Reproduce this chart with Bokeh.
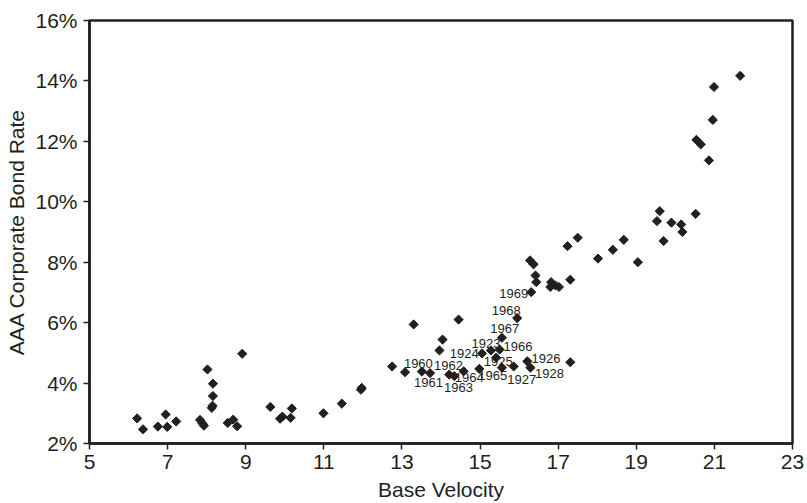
from bokeh.plotting import figure
from bokeh.models import FixedTicker, PrintfTickFormatter, ColumnDataSource, Range1d
from bokeh.core.properties import value
from bokeh.embed import file_html
from bokeh.resources import INLINE
import math

# Unlabelled observations: base velocity vs AAA corporate bond rate (%)
velocity = [6.22, 6.37, 6.75, 6.95, 6.99, 7.22, 7.83, 7.89, 7.93, 8.02, 8.16, 8.16, 8.13, 8.15,
            8.54, 8.68, 8.78, 8.91, 9.63, 9.88, 9.94, 10.18, 10.15, 10.99, 11.46, 11.95, 11.97,
            12.75, 13.08, 13.30, 14.04, 13.96, 14.45, 15.56, 17.31,
            16.28, 16.37, 16.42, 16.44, 16.82, 16.93, 17.02, 16.80, 17.31, 17.24, 17.50, 18.02,
            18.40, 18.68, 19.04, 19.53, 19.60, 19.90, 20.15, 20.18, 19.70, 20.52,
            20.86, 20.54, 20.65, 20.96, 20.99, 21.66]
rate = [2.83, 2.47, 2.56, 2.96, 2.55, 2.73, 2.78, 2.67, 2.59, 4.45, 3.98, 3.57, 3.18, 3.25,
        2.68, 2.79, 2.57, 4.97, 3.21, 2.82, 2.89, 3.16, 2.85, 3.00, 3.32, 3.78, 3.84,
        4.55, 4.36, 5.94, 5.44, 5.08, 6.10, 4.51, 4.69,
        8.06, 7.93, 7.56, 7.34, 7.34, 7.23, 7.18, 7.18, 7.42, 8.53, 8.81, 8.12,
        8.41, 8.74, 8.00, 9.36, 9.69, 9.31, 9.25, 9.00, 8.70, 9.60,
        11.37, 12.05, 11.90, 12.71, 13.80, 14.17]

# Labelled observations
years = ["1960", "1961", "1962", "1963", "1964", "1965", "1923", "1924", "1925", "1926",
         "1927", "1928", "1966", "1967", "1968", "1969"]
year_velocity = [13.51, 13.72, 14.21, 14.34, 14.58, 14.98, 15.28, 15.05, 15.41, 16.21,
                 15.86, 16.29, 15.50, 15.56, 15.95, 16.31]
year_rate = [4.38, 4.33, 4.28, 4.23, 4.39, 4.47, 5.08, 4.98, 4.84, 4.72,
             4.55, 4.51, 5.11, 5.50, 6.15, 7.01]

# label placement (screen pixel offsets, style only)
label_dx = [-3.5, -1.5, -0.8, 4.2, 5.6, 13.4, -5, -17.7, 2.2, 18.7, 8.1, 19, 18.4, 2.8, -11, -17.5]
label_dy = [-8.3, 9, -9, 11.6, 6, 6.7, -6.7, -0.3, 3.4, -2.7, 13.3, 6, -3, -9.6, -7.7, 1]

x_ticks = [5, 7, 9, 11, 13, 15, 17, 19, 21, 23]
y_ticks = [2, 4, 6, 8, 10, 12, 14, 16]

FONT = "Liberation Sans"
INK = "#231f20"

p = figure(width=807, height=503, output_backend="svg", toolbar_location=None,
           x_range=Range1d(5, 23), y_range=Range1d(2, 16),
           min_border_left=89, min_border_right=15, min_border_top=20, min_border_bottom=60)

p.xgrid.visible = False
p.ygrid.visible = False
p.outline_line_color = INK
p.outline_line_width = 2.5
p.outline_line_alpha = 1

for ax in (p.xaxis[0], p.yaxis[0]):
    ax.axis_line_color = INK
    ax.axis_line_width = 2.5
    ax.major_tick_line_color = INK
    ax.major_tick_line_width = 1.5
    ax.major_tick_out = 6
    ax.major_tick_in = 0
    ax.minor_tick_line_color = None
    ax.major_label_text_font = FONT
    ax.major_label_text_font_size = "21px"
    ax.major_label_text_color = INK
    ax.axis_label_text_font = FONT
    ax.axis_label_text_font_size = "21px"
    ax.axis_label_text_font_style = "normal"
    ax.axis_label_text_color = INK

p.xaxis[0].ticker = FixedTicker(ticks=x_ticks)
p.yaxis[0].ticker = FixedTicker(ticks=y_ticks)
p.yaxis[0].formatter = PrintfTickFormatter(format="%d%%")
p.xaxis[0].axis_label = "Base Velocity"
p.yaxis[0].axis_label = "AAA Corporate Bond Rate"
p.xaxis[0].major_label_standoff = 5
p.xaxis[0].axis_label_standoff = 6
p.yaxis[0].major_label_standoff = 6
p.yaxis[0].axis_label_standoff = 4

p.scatter(velocity, rate, marker="square", size=6.5, angle=math.pi / 4,
          fill_color=INK, line_color=INK, line_width=1)
p.scatter(year_velocity, year_rate, marker="square", size=6.5, angle=math.pi / 4,
          fill_color=INK, line_color=INK, line_width=1)

src = ColumnDataSource(dict(x=year_velocity, y=year_rate, t=years, dx=label_dx, dy=label_dy))
p.text(x="x", y="y", text="t", x_offset="dx", y_offset="dy", source=src,
       text_font=value(FONT), text_font_size="13px", text_color=INK,
       text_align="center", text_baseline="middle")

open("out.html", "w").write(file_html(p, INLINE))
